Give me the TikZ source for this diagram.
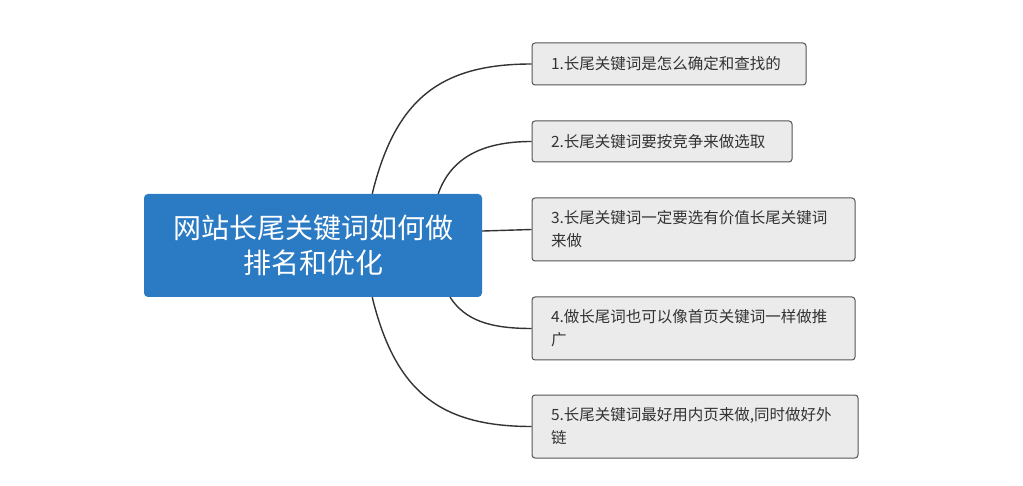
\documentclass[tikz,border=0pt]{standalone}
\usepackage{fontspec}
\newfontfamily\cjk{Noto Sans CJK SC}
\usetikzlibrary{calc}
\definecolor{mainblue}{RGB}{42,122,196}
\definecolor{boxfill}{RGB}{235,235,235}
\definecolor{boxline}{RGB}{85,85,85}
\definecolor{linkcol}{RGB}{51,51,51}
\definecolor{txt}{RGB}{51,51,51}
\tikzset{
  mainnode/.style={fill=mainblue, rounded corners=4pt, minimum width=338pt, minimum height=103pt,
    text=white, align=center, font=\cjk\fontsize{28}{35}\selectfont, inner sep=0pt},
  subnode/.style={fill=boxfill, draw=boxline, line width=1pt, rounded corners=3pt,
    inner xsep=19pt, inner ysep=0pt, align=left, text=txt, font=\cjk\fontsize{15.5}{23}\selectfont},
  link/.style={draw=linkcol, line width=1.4pt}
}
\begin{document}
\begin{tikzpicture}[x=1pt,y=-1pt]
\useasboundingbox[fill=white] (0,0) rectangle (1023,486);
\node[mainnode] (main) at (313,245.5) {网站长尾关键词如何做\\排名和优化};
\node[subnode, text width=236pt, minimum height=42pt] (b1) at (669,64) {1.长尾关键词是怎么确定和查找的};
\node[subnode, text width=222pt, minimum height=41pt] (b2) at (662,141.5) {2.长尾关键词要按竞争来做选取};
\node[subnode, text width=285pt, minimum height=63pt] (b3) at (693.5,229.5) {3.长尾关键词一定要选有价值长尾关键词\\来做};
\node[subnode, text width=285pt, minimum height=63pt] (b4) at (693.5,328.5) {4.做长尾词也可以像首页关键词一样做推\\广};
\node[subnode, text width=288pt, minimum height=63pt] (b5) at (695,426.5) {5.长尾关键词最好用内页来做,同时做好外\\链};
\draw[link] ($(main.north west)!0.675!(main.north east)$) .. controls +(23,-94) and +(-92,0) .. (b1.west);
\draw[link] ($(main.north west)!0.87!(main.north east)$) .. controls +(12,-34) and +(-52,0) .. (b2.west);
\draw[link] ($(main.north east)!0.36!(main.south east)$) .. controls +(25,0) and +(-25,0) .. (b3.west);
\draw[link] ($(main.south west)!0.905!(main.south east)$) .. controls +(15,23) and +(-42,0) .. (b4.west);
\draw[link] ($(main.south west)!0.675!(main.south east)$) .. controls +(23,94) and +(-92,0) .. (b5.west);
\end{tikzpicture}
\end{document}
